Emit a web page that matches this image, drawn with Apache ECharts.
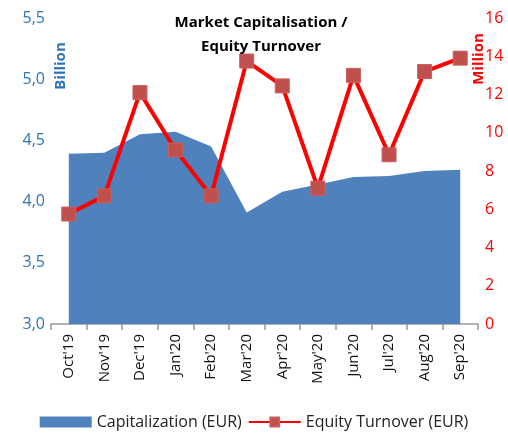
<!DOCTYPE html>
<html lang="en">
<head>
    <meta charset="UTF-8">
    <title>Market Capitalisation / Equity Turnover</title>
    <script src="https://cdn.jsdelivr.net/npm/echarts@6/dist/echarts.min.js"></script>
    <style>
        html, body { margin: 0; padding: 0; background: #fff; }
        #main { width: 508px; height: 433px; }
    </style>
</head>
<body>
<div id="main"></div>
<script type="text/javascript">
    // 数据
    var months = ["Oct'19", "Nov'19", "Dec'19", "Jan'20", "Feb'20", "Mar'20",
                  "Apr'20", "May'20", "Jun'20", "Jul'20", "Aug'20", "Sep'20"];
    var capitalization = [4.39, 4.40, 4.55, 4.57, 4.45, 3.91, 4.08, 4.14, 4.20, 4.21, 4.25, 4.26];
    var turnover = [5.75, 6.7, 12.1, 9.1, 6.7, 13.75, 12.45, 7.1, 13.0, 8.85, 13.2, 13.9];

    var font = "'Open Sans', 'Liberation Sans', sans-serif";

    var myChart = echarts.init(document.getElementById('main'));

    var option = {
        animation: false,
        title: {
            text: 'Market Capitalisation /\nEquity Turnover',
            left: 256,
            top: 6,
            textAlign: 'center',
            textStyle: {
                fontFamily: font,
                fontSize: 15,
                fontWeight: 'bold',
                color: '#000',
                lineHeight: 24
            }
        },
        legend: {
            bottom: -2,
            left: 'center',
            itemGap: 6,
            textStyle: { fontFamily: font, fontSize: 16, color: '#222' },
            data: [
                { name: 'Capitalization (EUR)', icon: 'rect', itemStyle: { color: '#4F81BD' } },
                { name: 'Equity Turnover (EUR)' }
            ],
            itemWidth: 52,
            itemHeight: 11
        },
        grid: { left: 51, right: 30, top: 18, bottom: 109 },
        xAxis: {
            type: 'category',
            data: months,
            boundaryGap: true,
            axisLine: { lineStyle: { color: '#999', width: 1.5 } },
            axisTick: { show: true, length: 6, lineStyle: { color: '#999', width: 1.5 } },
            axisLabel: {
                rotate: 90,
                interval: 0,
                margin: 10,
                fontFamily: font,
                fontSize: 15,
                color: '#111'
            }
        },
        yAxis: [{
            type: 'value',
            min: 3,
            max: 5.5,
            interval: 0.5,
            splitLine: { show: false },
            axisLine: { show: false },
            axisLabel: {
                margin: 6,
                fontFamily: font,
                fontSize: 16,
                color: '#2E75B6',
                formatter: function (v) { return v.toFixed(1).replace('.', ','); }
            }
        }, {
            type: 'value',
            min: 0,
            max: 16,
            interval: 2,
            splitLine: { show: false },
            axisLine: { show: false },
            axisLabel: {
                margin: 7,
                fontFamily: font,
                fontSize: 16,
                color: '#FF0000'
            }
        }],
        graphic: [{
            type: 'text',
            x: 61, y: 66,
            rotation: Math.PI / 2,
            style: {
                text: 'Billion',
                fontFamily: font, fontSize: 15, fontWeight: 'bold',
                fill: '#2E75B6',
                align: 'center', verticalAlign: 'middle'
            }
        }, {
            type: 'text',
            x: 479, y: 59,
            rotation: Math.PI / 2,
            style: {
                text: 'Million',
                fontFamily: font, fontSize: 15, fontWeight: 'bold',
                fill: '#FF0000',
                align: 'center', verticalAlign: 'middle'
            }
        }],
        series: [{
            name: 'Capitalization (EUR)',
            type: 'line',
            yAxisIndex: 0,
            data: capitalization,
            symbol: 'none',
            lineStyle: { width: 0, color: '#4F81BD' },
            itemStyle: { color: '#4F81BD' },
            areaStyle: { color: '#4F81BD', opacity: 1, origin: 'start' }
        }, {
            name: 'Equity Turnover (EUR)',
            type: 'line',
            yAxisIndex: 1,
            data: turnover,
            symbol: 'rect',
            symbolSize: 14,
            lineStyle: { color: '#FF0000', width: 4 },
            itemStyle: { color: '#C0504D', borderColor: '#C9605D', borderWidth: 1 },
            z: 3
        }]
    };

    myChart.setOption(option);
</script>
</body>
</html>
